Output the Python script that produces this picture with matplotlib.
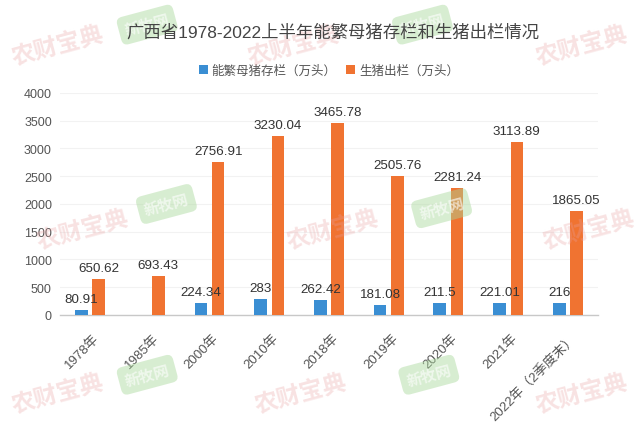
import numpy as np
import matplotlib
matplotlib.use('Agg')
import matplotlib.pyplot as plt

plt.rcParams['font.family'] = ['Liberation Sans', 'Noto Sans CJK SC', 'DejaVu Sans']

# data
years = ['1978年', '1985年', '2000年', '2010年', '2018年', '2019年', '2020年', '2021年', '2022年（2季度末）']
sows = [80.91, np.nan, 224.34, 283, 262.42, 181.08, 211.5, 221.01, 216]
hogs = [650.62, 693.43, 2756.91, 3230.04, 3465.78, 2505.76, 2281.24, 3113.89, 1865.05]
sow_name = '能繁母猪存栏（万头）'
hog_name = '生猪出栏（万头）'

blue = '#3a8ed3'
orange = '#f07331'

fig = plt.figure(figsize=(6.4, 4.27), dpi=100)
ax = fig.add_axes([0.094, 0.26, 0.84, 0.52])

x = np.arange(len(years))
w = 0.21
off = 0.145
ax.bar(x - off, sows, w, color=blue, label=sow_name, zorder=3)
ax.bar(x + off, hogs, w, color=orange, label=hog_name, zorder=3)

# value labels
for xi, v in zip(x, sows):
    if not np.isnan(v):
        ax.text(xi - off, v + 90, f'{v:g}', ha='center', va='bottom', fontsize=9.6, color='#333333', zorder=4)
for xi, v in zip(x, hogs):
    ax.text(xi + off, v + 90, f'{v:.2f}', ha='center', va='bottom', fontsize=9.6, color='#333333', zorder=4)

ax.set_xlim(-0.5, len(years) - 0.5)
ax.set_ylim(0, 4000)
ax.set_yticks(np.arange(0, 4001, 500))
ax.set_xticks(x + 0.05)
ax.set_xticklabels(years, rotation=45, ha='right', rotation_mode='anchor', fontsize=9.5, color='#555555')
ax.tick_params(axis='y', length=0, labelsize=9, labelcolor='#555555', pad=6)
ax.tick_params(axis='x', length=0, pad=12)
ax.grid(axis='y', color='#f2f2f2', linewidth=0.8, zorder=0)
for s in ['top', 'right', 'left']:
    ax.spines[s].set_visible(False)
ax.spines['bottom'].set_color('#c8c8c8')
ax.spines['bottom'].set_linewidth(1)

fig.text(0.52, 0.925, '广西省1978-2022上半年能繁母猪存栏和生猪出栏情况', ha='center', va='center',
         fontsize=12.5, color='#444444')
ax.legend(loc='center', bbox_to_anchor=(0.5, 1.1), ncol=2, frameon=False, fontsize=9,
          handlelength=0.7, handleheight=0.7, handletextpad=0.3, columnspacing=0.8,
          labelcolor='#555555')

# watermarks
for (px, py) in [(0.09, 0.89), (0.46, 0.89), (0.91, 0.89), (0.13, 0.46), (0.52, 0.46), (0.92, 0.46),
                 (0.09, 0.075), (0.47, 0.075), (0.91, 0.075)]:
    fig.text(px, py, '农财宝典', ha='center', va='center', fontsize=17, fontweight='bold',
             color='#e8a0a0', alpha=0.3, rotation=15, family=['Noto Sans CJK SC'], zorder=0)
for (px, py) in [(0.23, 0.94), (0.66, 0.94), (0.26, 0.52), (0.69, 0.51), (0.23, 0.12), (0.67, 0.12)]:
    fig.text(px, py, '新牧网', ha='center', va='center', fontsize=11, fontweight='bold',
             color='white', alpha=0.6, rotation=15, family=['Noto Sans CJK SC'], zorder=0,
             bbox=dict(boxstyle='round,pad=0.4', facecolor='#a8d89a', edgecolor='none', alpha=0.45))

fig.savefig('out.png', dpi=100)
